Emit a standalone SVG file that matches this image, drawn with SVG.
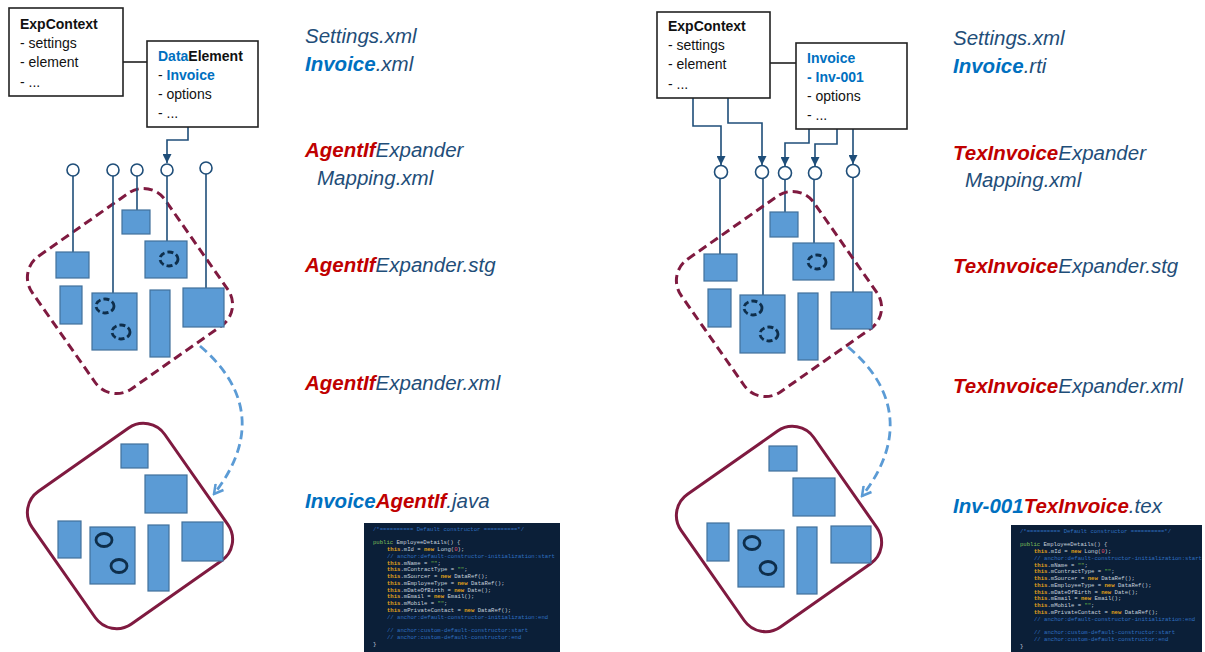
<svg xmlns="http://www.w3.org/2000/svg" xmlns:xlink="http://www.w3.org/1999/xlink" width="1205" height="652" viewBox="0 0 1205 652">
<style>
.box{fill:#fff;stroke:#222;stroke-width:1.6}
.bl{font-family:"Liberation Sans",Arial,sans-serif;font-size:14px;fill:#111}
.b{font-weight:bold}
.blue{fill:#0070C0}
.lab{font-family:"Liberation Sans",Arial,sans-serif;font-size:20.5px;font-style:italic;fill:#1F4E79}
.red{fill:#C00000;font-weight:bold}
.lblue{fill:#0070C0;font-weight:bold}
.cont-d{fill:none;stroke:#7F1A40;stroke-width:3;stroke-dasharray:9 5}
.cont-s{fill:none;stroke:#7F1A40;stroke-width:3}
.blk{fill:#5B9BD5;stroke:#41719C;stroke-width:1.2}
.port{fill:#fff;stroke:#1F4E79;stroke-width:1.6}
.wire{fill:none;stroke:#1F4E79;stroke-width:1.6}
.link{fill:none;stroke:#111;stroke-width:1.5}
.flow{fill:none;stroke:#5B9BD5;stroke-width:2.8;stroke-dasharray:9 5}
.dc{fill:none;stroke:#0E2E4B;stroke-width:2.8;stroke-dasharray:6 3}
.sc{fill:none;stroke:#0E2E4B;stroke-width:2.8}
.codebg{fill:#0B1F38}
.code{font-family:"Liberation Mono","Courier New",monospace;font-size:5.6px;fill:#C8D2DE}
.cm{fill:#2F6FC0}
.kw{fill:#E2A41B;font-weight:bold}
.st{fill:#6DBE45}
.pub{fill:#7FBF5A}
.num{fill:#E0506A}
</style>
<defs>
<marker id="tri" markerUnits="userSpaceOnUse" markerWidth="9" markerHeight="9" refX="9" refY="4.5" orient="auto">
<path d="M0,0 L9,4.5 L0,9 z" fill="#1F4E79"/>
</marker>
<marker id="open" markerUnits="userSpaceOnUse" markerWidth="12" markerHeight="12" refX="10" refY="6" orient="auto">
<path d="M1,1 L10,6 L1,11" fill="none" stroke="#5B9BD5" stroke-width="2.5"/>
</marker>
<rect id="rr" x="-81" y="-81" width="162" height="162" rx="26" ry="26"/>
<g id="codeText" class="code" xml:space="preserve">
<text x="0" y="0" class="cm">/*========== Default constructor ==========*/</text>
<text x="0" y="13.3"><tspan class="pub">public</tspan> EmployeeDetails() {</text>
<text x="14" y="20"><tspan class="kw">this</tspan>.mId = <tspan class="kw">new</tspan> Long(<tspan class="num">0</tspan>);</text>
<text x="14" y="26.8" class="cm">// anchor:default-constructor-initialization:start</text>
<text x="14" y="33.5"><tspan class="kw">this</tspan>.mName = <tspan class="st">""</tspan>;</text>
<text x="14" y="40.3"><tspan class="kw">this</tspan>.mContractType = <tspan class="st">""</tspan>;</text>
<text x="14" y="47"><tspan class="kw">this</tspan>.mSourcer = <tspan class="kw">new</tspan> DataRef();</text>
<text x="14" y="53.8"><tspan class="kw">this</tspan>.mEmployeeType = <tspan class="kw">new</tspan> DataRef();</text>
<text x="14" y="60.5"><tspan class="kw">this</tspan>.mDateOfBirth = <tspan class="kw">new</tspan> Date();</text>
<text x="14" y="67.3"><tspan class="kw">this</tspan>.mEmail = <tspan class="kw">new</tspan> Email();</text>
<text x="14" y="74"><tspan class="kw">this</tspan>.mMobile = <tspan class="st">""</tspan>;</text>
<text x="14" y="80.8"><tspan class="kw">this</tspan>.mPrivateContact = <tspan class="kw">new</tspan> DataRef();</text>
<text x="14" y="87.5" class="cm">// anchor:default-constructor-initialization:end</text>
<text x="14" y="101" class="cm">// anchor:custom-default-constructor:start</text>
<text x="14" y="107.8" class="cm">// anchor:custom-default-constructor:end</text>
<text x="0" y="114.5">}</text>
</g>
</defs>
<rect width="1205" height="652" fill="#fff"/>

<!-- LEFT PANE -->
<g id="left-containers">
<use xlink:href="#rr" class="cont-d" transform="translate(130,291) rotate(-35)"/>
<use xlink:href="#rr" class="cont-s" transform="translate(130,526) rotate(-35)"/>
</g>

<g id="connectors">
<path class="link" d="M89,62 H147"/>
<path class="wire" d="M188,115 V140 H167 V163" marker-end="url(#tri)"/>
<path class="wire" d="M73,176 V252"/>
<path class="wire" d="M113,176 V293"/>
<path class="wire" d="M137,176 V210"/>
<path class="wire" d="M167,176 V241"/>
<path class="wire" d="M206,174 V288"/>
<path class="flow" d="M200,346 C240,380 264,430 214,494" marker-end="url(#open)"/>

<path class="link" d="M737,63 H796"/>
<path class="wire" d="M693,86 V126 H721 V165" marker-end="url(#tri)"/>
<path class="wire" d="M728,79 V123 H762 V165" marker-end="url(#tri)"/>
<path class="wire" d="M809,119 V143 H785 V166" marker-end="url(#tri)"/>
<path class="wire" d="M837,117 V144 H815 V166" marker-end="url(#tri)"/>
<path class="wire" d="M886,79 V122 H853 V164" marker-end="url(#tri)"/>
<path class="wire" d="M720,179 V254"/>
<path class="wire" d="M763,179 V295"/>
<path class="wire" d="M785,180 V212"/>
<path class="wire" d="M814,180 V243"/>
<path class="wire" d="M853,178 V292"/>
<path class="flow" d="M848,347 C888,380 912,432 862,496" marker-end="url(#open)"/>
</g>

<g id="expcontext-left">
<rect class="box" x="9" y="8" width="114" height="88"/>
<text class="bl b" x="20" y="29">ExpContext</text>
<text class="bl" x="20" y="48">- settings</text>
<text class="bl" x="20" y="67">- element</text>
<text class="bl" x="20" y="87">- ...</text>
</g>

<g id="dataelement-left">
<rect class="box" x="147" y="41" width="111" height="86"/>
<text class="bl b" x="158" y="61"><tspan class="blue">Data</tspan>Element</text>
<text class="bl" x="158" y="80">- <tspan class="b blue">Invoice</tspan></text>
<text class="bl" x="158" y="99">- options</text>
<text class="bl" x="158" y="118">- ...</text>
</g>

<g id="ports-left">
<circle class="port" cx="73" cy="170" r="6"/>
<circle class="port" cx="113" cy="170" r="6"/>
<circle class="port" cx="137" cy="170" r="6"/>
<circle class="port" cx="167" cy="170" r="6"/>
<circle class="port" cx="206" cy="168" r="6"/>
</g>

<g id="template-left">
<rect class="blk" x="56" y="252" width="33" height="26"/>
<rect class="blk" x="122" y="210" width="28" height="24"/>
<rect class="blk" x="145" y="241" width="42" height="37"/>
<ellipse class="dc" cx="169" cy="259" rx="9" ry="7"/>
<rect class="blk" x="60" y="286" width="22" height="38"/>
<rect class="blk" x="92" y="293" width="45" height="57"/>
<ellipse class="dc" cx="105" cy="306" rx="9" ry="7"/>
<ellipse class="dc" cx="121" cy="332" rx="9" ry="7"/>
<rect class="blk" x="150" y="290" width="20" height="67"/>
<rect class="blk" x="183" y="288" width="41" height="39"/>
</g>

<g id="output-left">
<rect class="blk" x="121" y="444" width="27" height="24"/>
<rect class="blk" x="145" y="475" width="42" height="38"/>
<rect class="blk" x="58" y="521" width="23" height="37"/>
<rect class="blk" x="90" y="527" width="45" height="57"/>
<ellipse class="sc" cx="104" cy="540" rx="8" ry="6.5"/>
<ellipse class="sc" cx="119" cy="566" rx="8" ry="6.5"/>
<rect class="blk" x="148" y="525" width="21" height="66"/>
<rect class="blk" x="182" y="522" width="41" height="39"/>
</g>

<g id="labels-left">
<text class="lab" x="305" y="43">Settings.xml</text>
<text class="lab" x="305" y="71"><tspan class="lblue">Invoice</tspan>.xml</text>
<text class="lab" x="305" y="157"><tspan class="red">AgentIf</tspan>Expander</text>
<text class="lab" x="317" y="185">Mapping.xml</text>
<text class="lab" x="305" y="272"><tspan class="red">AgentIf</tspan>Expander.stg</text>
<text class="lab" x="305" y="390"><tspan class="red">AgentIf</tspan>Expander.xml</text>
<text class="lab" x="305" y="508"><tspan class="lblue">Invoice</tspan><tspan class="red">AgentIf</tspan>.java</text>
</g>

<g id="code-left">
<rect class="codebg" x="364" y="523" width="196" height="129"/>
<use xlink:href="#codeText" transform="translate(373,531)"/>
</g>

<!-- RIGHT PANE -->
<g id="right-containers">
<use xlink:href="#rr" class="cont-d" transform="translate(779,294) rotate(-35)"/>
<use xlink:href="#rr" class="cont-s" transform="translate(779,529) rotate(-35)"/>
</g>

<g id="expcontext-right">
<rect class="box" x="657" y="12" width="113" height="86"/>
<text class="bl b" x="668" y="31">ExpContext</text>
<text class="bl" x="668" y="50">- settings</text>
<text class="bl" x="668" y="69">- element</text>
<text class="bl" x="668" y="89">- ...</text>
</g>

<g id="invoice-right">
<rect class="box" x="796" y="43" width="111" height="86"/>
<text class="bl b blue" x="807" y="63">Invoice</text>
<text class="bl b blue" x="807" y="82">- Inv-001</text>
<text class="bl" x="807" y="101">- options</text>
<text class="bl" x="807" y="120">- ...</text>
</g>

<g id="ports-right">
<circle class="port" cx="721" cy="172" r="6.5"/>
<circle class="port" cx="762" cy="172" r="6.5"/>
<circle class="port" cx="785" cy="173" r="6.5"/>
<circle class="port" cx="815" cy="173" r="6.5"/>
<circle class="port" cx="853" cy="171" r="6.5"/>
</g>

<g id="template-right">
<rect class="blk" x="704" y="254" width="33" height="27"/>
<rect class="blk" x="770" y="212" width="28" height="25"/>
<rect class="blk" x="793" y="243" width="41" height="37"/>
<ellipse class="dc" cx="817" cy="262" rx="9" ry="7"/>
<rect class="blk" x="708" y="289" width="23" height="38"/>
<rect class="blk" x="740" y="295" width="45" height="58"/>
<ellipse class="dc" cx="753" cy="308" rx="9" ry="7"/>
<ellipse class="dc" cx="769" cy="334" rx="9" ry="7"/>
<rect class="blk" x="798" y="293" width="20" height="67"/>
<rect class="blk" x="831" y="292" width="41" height="37"/>
</g>

<g id="output-right">
<rect class="blk" x="769" y="446" width="28" height="25"/>
<rect class="blk" x="793" y="478" width="42" height="38"/>
<rect class="blk" x="707" y="523" width="22" height="38"/>
<rect class="blk" x="738" y="530" width="46" height="57"/>
<ellipse class="sc" cx="752" cy="543" rx="8" ry="6.5"/>
<ellipse class="sc" cx="768" cy="568" rx="8" ry="6.5"/>
<rect class="blk" x="797" y="527" width="20" height="67"/>
<rect class="blk" x="831" y="526" width="40" height="37"/>
</g>

<g id="labels-right">
<text class="lab" x="953" y="45">Settings.xml</text>
<text class="lab" x="953" y="73"><tspan class="lblue">Invoice</tspan>.rti</text>
<text class="lab" x="953" y="160"><tspan class="red">TexInvoice</tspan>Expander</text>
<text class="lab" x="965" y="187">Mapping.xml</text>
<text class="lab" x="953" y="273"><tspan class="red">TexInvoice</tspan>Expander.stg</text>
<text class="lab" x="953" y="393"><tspan class="red">TexInvoice</tspan>Expander.xml</text>
<text class="lab" x="953" y="513"><tspan class="lblue">Inv-001</tspan><tspan class="red">TexInvoice</tspan>.tex</text>
</g>

<g id="code-right">
<rect class="codebg" x="1011" y="525" width="191" height="127"/>
<use xlink:href="#codeText" transform="translate(1020,533)"/>
</g>
</svg>
